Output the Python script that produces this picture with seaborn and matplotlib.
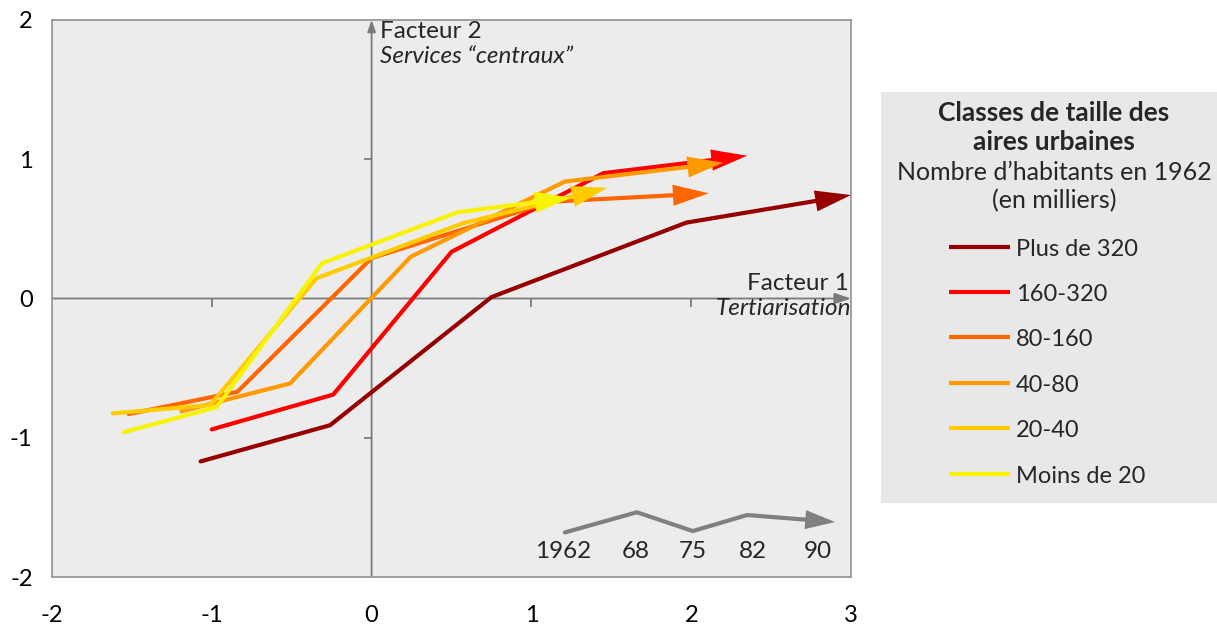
import matplotlib
matplotlib.use("Agg")
import matplotlib.pyplot as plt
import seaborn as sns
import pandas as pd
from matplotlib.lines import Line2D
from matplotlib.patches import Rectangle

# ---------------- data ----------------
classes = ["Plus de 320", "160-320", "80-160", "40-80", "20-40", "Moins de 20"]
colors = ["#960000", "#FF0000", "#FF6600", "#FF9900", "#FFCC00", "#F8F400"]
years = ["1962", "68", "75", "82", "90"]

x_plus320 = [-1.07, -0.26, 0.75, 1.97, 3.00]
y_plus320 = [-1.17, -0.91, 0.01, 0.545, 0.743]
x_160_320 = [-1.00, -0.24, 0.50, 1.45, 2.35]
y_160_320 = [-0.94, -0.69, 0.335, 0.90, 1.025]
x_80_160 = [-1.52, -0.84, 0.00, 1.12, 2.11]
y_80_160 = [-0.83, -0.67, 0.29, 0.695, 0.755]
x_40_80 = [-1.19, -0.51, 0.245, 1.21, 2.20]
y_40_80 = [-0.81, -0.61, 0.30, 0.84, 0.975]
x_20_40 = [-1.62, -1.01, -0.345, 0.57, 1.475]
y_20_40 = [-0.825, -0.765, 0.145, 0.54, 0.795]
x_moins20 = [-1.55, -0.97, -0.31, 0.54, 1.245]
y_moins20 = [-0.96, -0.78, 0.253, 0.62, 0.724]

# time-key arrow (bottom right)
key_x = [1.21, 1.66, 2.01, 2.35, 2.90]
key_y = [-1.68, -1.535, -1.67, -1.555, -1.605]
key_label_x = [1.20, 1.65, 2.01, 2.386, 2.79]

xticks = [-2, -1, 0, 1, 2, 3]
yticks = [-2, -1, 0, 1, 2]

series_x = [x_plus320, x_160_320, x_80_160, x_40_80, x_20_40, x_moins20]
series_y = [y_plus320, y_160_320, y_80_160, y_40_80, y_20_40, y_moins20]

rows = []
for c, xs, ys in zip(classes, series_x, series_y):
    for i, (xv, yv) in enumerate(zip(xs, ys)):
        rows.append({"classe": c, "annee": years[i], "ordre": i, "f1": xv, "f2": yv})
df = pd.DataFrame(rows)

# ---------------- style ----------------
sns.set_style("white")
plt.rcParams["font.family"] = ["Lato", "DejaVu Sans"]

W, H = 1217, 625
fig = plt.figure(figsize=(W / 100, H / 100), dpi=100)
ax = fig.add_axes([52 / W, 1 - 577 / H, (851 - 52) / W, (577 - 20) / H])
ax.set_facecolor("#ECECEC")

LW = 3.0
grey = "#7A7A7A"

# inner axes (through origin) with arrows
ax.annotate("", xy=(3, 0), xytext=(-2, 0), xycoords="data",
            arrowprops=dict(arrowstyle="-|>,head_length=10,head_width=3.4", mutation_scale=1,
                            color=grey, lw=1.3, shrinkA=0, shrinkB=0), annotation_clip=False, zorder=1)
ax.annotate("", xy=(0, 2), xytext=(0, -2), xycoords="data",
            arrowprops=dict(arrowstyle="-|>,head_length=7,head_width=2.5", mutation_scale=1,
                            color=grey, lw=1.3, shrinkA=0, shrinkB=0), annotation_clip=False, zorder=1)
ax.plot([-1, 1, 2], [0, 0, 0], ls="none", marker=3, ms=6, mew=1.3, color=grey, zorder=1)
ax.plot([0, 0], [-1, 1], ls="none", marker=0, ms=6, mew=1.3, color=grey, zorder=1)

# series lines (all but last segment), then last segment as arrow
body = df[df["ordre"] < len(years) - 1]
sns.lineplot(data=body, x="f1", y="f2", hue="classe", hue_order=classes, palette=colors,
             units="classe", estimator=None, sort=False, lw=LW, legend=False, ax=ax, zorder=3)
for c, col, xs, ys in zip(classes, colors, series_x, series_y):
    ax.annotate("", xy=(xs[-1], ys[-1]), xytext=(xs[-2], ys[-2]), xycoords="data",
                arrowprops=dict(arrowstyle="-|>,head_length=19,head_width=5.6", mutation_scale=1,
                                color=col, lw=LW, shrinkA=0, shrinkB=0, joinstyle="miter",
                                capstyle="butt"),
                annotation_clip=False, zorder=4)

# time key
kdf = pd.DataFrame({"x": key_x[:-1], "y": key_y[:-1]})
sns.lineplot(data=kdf, x="x", y="y", sort=False, estimator=None, color="#808080", lw=LW, ax=ax, zorder=3)
ax.annotate("", xy=(key_x[-1], key_y[-1]), xytext=(key_x[-2], key_y[-2]), xycoords="data",
            arrowprops=dict(arrowstyle="-|>,head_length=15,head_width=4.8", mutation_scale=1,
                            color="#808080", lw=LW, shrinkA=0, shrinkB=0, joinstyle="miter",
                            capstyle="butt"), zorder=4)
for lx, lab in zip(key_label_x, years):
    ax.text(lx, -1.866, lab, ha="center", va="baseline", fontsize=17.5)

# axis titles
ax.text(0.055, 1.871, "Facteur 2", ha="left", va="baseline", fontsize=17.5)
ax.text(0.055, 1.69, "Services \u201ccentraux\u201d", ha="left", va="baseline", fontsize=17.5, style="italic")
ax.text(2.987, 0.061, "Facteur 1", ha="right", va="baseline", fontsize=17.5)
ax.text(2.999, -0.118, "Tertiarisation", ha="right", va="baseline", fontsize=17.5, style="italic")

# outer frame, ticks
ax.set_xlim(-2, 3)
ax.set_ylim(-2, 2)
ax.set_xticks(xticks)
ax.set_yticks(yticks)
ax.set_xticklabels([str(t) for t in xticks])
ax.set_yticklabels([str(t) for t in yticks])
ax.set_xlabel("")
ax.set_ylabel("")
ax.tick_params(axis="both", length=0, labelsize=17, colors="black")
ax.tick_params(axis="x", pad=20)
ax.tick_params(axis="y", pad=14)
for s in ax.spines.values():
    s.set_color("#9A9A9A")
    s.set_linewidth(1.3)

# legend box
fig.patches.append(Rectangle((881 / W, 1 - 503 / H), (W - 881) / W, (503 - 92) / H,
                             transform=fig.transFigure, facecolor="#E8E8E8", edgecolor="none", zorder=0))
cx = 1054 / W
fig.text(cx, 1 - 121 / H, "Classes de taille des", ha="center", va="baseline", fontsize=19, weight="bold")
fig.text(cx, 1 - 150 / H, "aires urbaines", ha="center", va="baseline", fontsize=19, weight="bold")
fig.text(cx, 1 - 180 / H, "Nombre d\u2019habitants en 1962", ha="center", va="baseline", fontsize=18)
fig.text(cx, 1 - 208 / H, "(en milliers)", ha="center", va="baseline", fontsize=18)

row_y = [246.5, 291.7, 336.7, 382.7, 428.3, 474.0]
for c, col, ry in zip(classes, colors, row_y):
    fig.add_artist(Line2D([949 / W, 1010 / W], [1 - ry / H] * 2, transform=fig.transFigure,
                          color=col, lw=LW, solid_capstyle="butt"))
    fig.text(1016 / W, 1 - (ry + 9) / H, c, ha="left", va="baseline", fontsize=17)

fig.savefig("out.png", dpi=100, facecolor="white")
